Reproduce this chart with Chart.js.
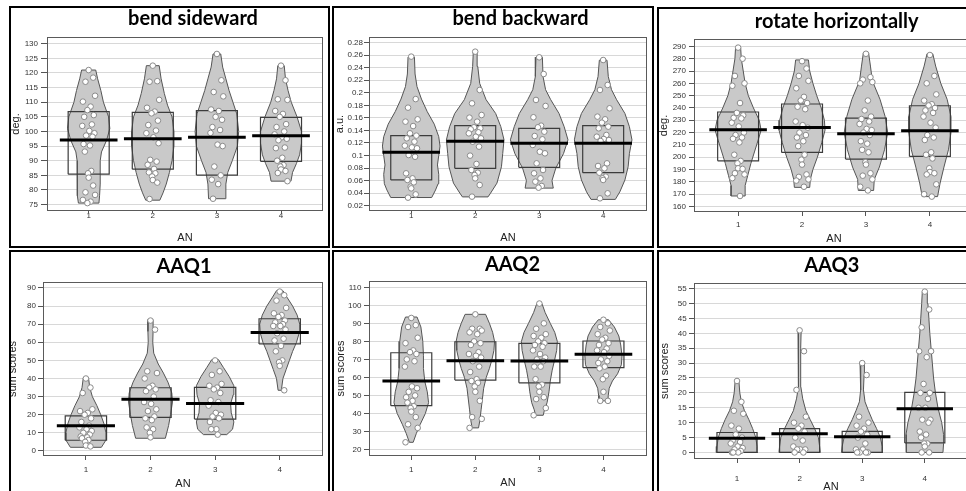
<!DOCTYPE html>
<html>
<head>
<meta charset="utf-8">
<script src="https://cdn.jsdelivr.net/npm/chart.js@4.4.1/dist/chart.umd.min.js"></script>
<style>
  html, body { margin: 0; padding: 0; background: #fff; overflow: hidden; width: 966px; height: 491px; }
  .panel { position: absolute; border: 2px solid #000; box-sizing: border-box; background: #fff; }
  .panel canvas { position: absolute; left: 0; top: 0; }
  .ttl { position: absolute; width: 300px; text-align: center; font-family: Lato, "Open Sans", sans-serif;
         font-weight: bold; font-size: 20px; line-height: 20px; color: #000; white-space: nowrap; }
</style>
</head>
<body>
<script>
// groups on the x axis
const CATS = [1, 2, 3, 4];

// ---- bend sideward ----
const SIDE_TICKS = [75, 80, 85, 90, 95, 100, 105, 110, 115, 120, 125, 130];
const SIDE_PTS = [
  [121, 118.4, 117, 112.2, 110.2, 108.5, 107.3, 105.6, 105, 102.4, 101.9, 100.2, 99.4, 98.6, 98.2, 95.7, 95.2, 93.1, 86.5, 85.7, 84.2, 81.5, 79.2, 78.3, 76.6, 76, 75.5],
  [122.5, 117.2, 117, 110.8, 108.1, 106.8, 106.2, 103.7, 102.2, 100.3, 99.4, 98, 96, 90.3, 89.7, 88.6, 87.2, 86, 85.7, 84.6, 83.4, 82.5, 76.9],
  [126.5, 117.5, 113.5, 112, 107.5, 107, 105, 104, 101.5, 100.5, 99.5, 95.5, 95, 88, 85, 83.5, 82, 77],
  [122.5, 117.5, 111, 110.8, 107, 106, 105, 102.5, 101.5, 100, 99, 98, 97.5, 97, 94.5, 94.3, 91, 90, 88.5, 88, 87, 86.5, 85.8, 83]
];
const SIDE_MEAN = [97.1, 97.5, 98, 98.5];
const SIDE_Q1 = [85.4, 87.1, 85.1, 89.8];
const SIDE_Q3 = [106.8, 106.5, 107.1, 104.8];
const SIDE_VIOLIN = [
  [[75.5, 0.16], [78, 0.17], [82, 0.18], [86, 0.18], [90, 0.18], [93, 0.2], [97, 0.28], [101, 0.33], [105, 0.31], [110, 0.23], [114, 0.19], [118, 0.14], [121, 0.11]],
  [[76.5, 0.11], [79, 0.16], [82, 0.21], [86, 0.26], [90, 0.30], [95, 0.33], [100, 0.33], [105, 0.30], [109, 0.23], [113, 0.18], [118, 0.13], [122.5, 0.10]],
  [[77, 0.13], [82, 0.14], [86, 0.17], [90, 0.24], [95, 0.32], [100, 0.34], [106, 0.31], [110, 0.25], [114, 0.19], [118, 0.14], [122, 0.09], [126.5, 0.06]],
  [[83, 0.155], [86, 0.18], [89, 0.24], [92, 0.29], [96, 0.32], [100, 0.32], [105, 0.25], [110, 0.16], [114, 0.11], [118, 0.07], [122.5, 0.05]]
];

// ---- bend backward ----
const BACK_TICKS = [0.02, 0.04, 0.06, 0.08, 0.1, 0.12, 0.14, 0.16, 0.18, 0.2, 0.22, 0.24, 0.26, 0.28];
const BACK_PTS = [
  [0.2577, 0.19, 0.1763, 0.1577, 0.154, 0.147, 0.1354, 0.1317, 0.1274, 0.1221, 0.1157, 0.113, 0.1115, 0.1008, 0.098, 0.0716, 0.0636, 0.061, 0.0572, 0.0503, 0.0476, 0.038, 0.0328],
  [0.2656, 0.2045, 0.1832, 0.1646, 0.1604, 0.154, 0.145, 0.1434, 0.1418, 0.137, 0.1354, 0.13, 0.1274, 0.122, 0.1141, 0.0998, 0.0865, 0.0769, 0.0726, 0.0689, 0.0636, 0.053, 0.0344],
  [0.2566, 0.23, 0.1886, 0.179, 0.161, 0.1476, 0.145, 0.138, 0.1311, 0.1258, 0.1168, 0.106, 0.1035, 0.0875, 0.0769, 0.0716, 0.0636, 0.0583, 0.0514, 0.0487],
  [0.2523, 0.2125, 0.2045, 0.1753, 0.162, 0.1577, 0.1524, 0.146, 0.1434, 0.1327, 0.13, 0.1263, 0.1247, 0.1231, 0.0875, 0.0833, 0.0796, 0.0726, 0.0663, 0.0636, 0.061, 0.0397, 0.0317]
];
const BACK_MEAN = [0.105, 0.1226, 0.1194, 0.1194];
const BACK_Q1 = [0.061, 0.0796, 0.0811, 0.0726];
const BACK_Q3 = [0.1317, 0.1476, 0.1434, 0.1476];
const BACK_VIOLIN = [
  [[0.033, 0.32], [0.045, 0.38], [0.055, 0.42], [0.07, 0.43], [0.085, 0.41], [0.10, 0.43], [0.115, 0.45], [0.13, 0.43], [0.15, 0.36], [0.17, 0.25], [0.19, 0.16], [0.21, 0.09], [0.23, 0.06], [0.257, 0.05]],
  [[0.034, 0.2], [0.04, 0.24], [0.056, 0.34], [0.082, 0.41], [0.103, 0.43], [0.125, 0.45], [0.146, 0.4], [0.167, 0.32], [0.189, 0.17], [0.215, 0.07], [0.242, 0.04], [0.265, 0.03]],
  [[0.048, 0.22], [0.06, 0.2], [0.08, 0.26], [0.103, 0.38], [0.125, 0.45], [0.146, 0.39], [0.167, 0.31], [0.189, 0.18], [0.205, 0.1], [0.226, 0.06], [0.257, 0.05]],
  [[0.03, 0.19], [0.042, 0.26], [0.061, 0.34], [0.082, 0.39], [0.103, 0.41], [0.125, 0.45], [0.146, 0.41], [0.167, 0.34], [0.189, 0.21], [0.205, 0.13], [0.226, 0.08], [0.252, 0.06]]
];

// ---- rotate horizontally ----
const ROT_TICKS = [160, 170, 180, 190, 200, 210, 220, 230, 240, 250, 260, 270, 280, 290];
const ROT_PTS = [
  [289, 280, 266, 260, 258, 244, 236, 234, 232, 231.5, 228, 225, 220, 218, 216, 215, 212, 202, 197, 195, 191, 190.5, 187, 186, 183, 168.5],
  [278, 272, 266, 262, 256, 249, 246, 244, 241, 239, 229, 226, 224, 220, 218, 216, 213, 209, 202, 198, 194, 186, 184, 182, 181, 176],
  [284, 265, 263, 261, 260, 246, 238, 233, 231, 229, 227, 223, 222, 220, 218, 213, 211, 206, 204, 196, 194, 187, 185, 182, 176, 173],
  [283, 266, 260, 251, 246, 243, 242, 240, 238, 236, 233, 228, 224, 218, 216, 214, 204, 202, 199, 191, 188, 187, 186, 178, 170, 168]
];
const ROT_MEAN = [222.3, 224.2, 219, 221.5];
const ROT_Q1 = [197.1, 203.9, 198.5, 200.6];
const ROT_Q3 = [236.7, 243.2, 231.8, 241.8];
const ROT_VIOLIN = [
  [[168.5, 0.11], [177, 0.11], [185, 0.15], [195, 0.2], [205, 0.26], [215, 0.32], [222, 0.36], [230, 0.33], [240, 0.24], [250, 0.16], [260, 0.11], [270, 0.08], [280, 0.05], [289, 0.04]],
  [[175.5, 0.12], [182, 0.13], [190, 0.17], [200, 0.24], [212, 0.31], [222, 0.36], [230, 0.35], [240, 0.3], [250, 0.23], [260, 0.17], [270, 0.12], [279, 0.1]],
  [[173, 0.12], [182, 0.13], [192, 0.21], [206, 0.29], [220, 0.34], [233, 0.3], [247, 0.22], [257, 0.14], [262, 0.1], [274, 0.07], [285, 0.04]],
  [[168, 0.12], [179, 0.16], [192, 0.22], [206, 0.29], [220, 0.33], [233, 0.33], [247, 0.27], [260, 0.17], [274, 0.09], [284, 0.045]]
];

// ---- AAQ1 ----
const AAQ1_TICKS = [0, 10, 20, 30, 40, 50, 60, 70, 80, 90];
const AAQ1_PTS = [
  [40, 35, 32, 23, 22, 21, 20, 18, 16, 14, 13, 12, 11, 10, 9, 8, 7.5, 7, 6, 5, 3, 2.5],
  [72, 67, 44, 43, 40, 36, 35, 34, 33, 30, 27, 26, 23, 22, 19, 18, 17, 13, 12, 10, 7.5],
  [50, 44, 42, 37, 36, 35, 34, 32, 28, 27, 25, 21, 20, 19, 18, 16, 12, 12, 9],
  [88, 86, 83, 79, 76, 75, 74, 72, 71, 70, 69, 69, 67, 65, 62, 61, 58, 55, 50, 49, 47, 33.5]
];
const AAQ1_MEAN = [13.9, 28.5, 26.2, 65.4];
const AAQ1_Q1 = [5.9, 18.5, 17.6, 59.1];
const AAQ1_Q3 = [19.4, 34.9, 35.1, 73];
const AAQ1_VIOLIN = [
  [[2, 0.24], [6, 0.31], [10, 0.31], [15, 0.28], [20, 0.23], [25, 0.17], [30, 0.1], [35, 0.06], [40.5, 0.04]],
  [[7, 0.23], [14, 0.28], [20, 0.31], [27, 0.34], [32, 0.33], [38, 0.27], [43, 0.2], [48, 0.12], [54, 0.05], [60, 0.035], [66, 0.04], [72.5, 0.04]],
  [[9, 0.18], [12, 0.27], [16, 0.29], [21, 0.25], [26, 0.24], [31, 0.28], [36, 0.29], [41, 0.22], [46, 0.13], [50.5, 0.05]],
  [[33.5, 0.025], [40, 0.05], [45, 0.1], [50, 0.15], [55, 0.2], [60, 0.26], [65, 0.3], [70, 0.31], [75, 0.27], [80, 0.2], [85, 0.11], [88.5, 0.05]]
];

// ---- AAQ2 ----
const AAQ2_TICKS = [20, 30, 40, 50, 60, 70, 80, 90, 100, 110];
const AAQ2_PTS = [
  [93, 89, 88, 82, 79, 75, 74, 73, 70, 69, 66, 55, 54, 52, 50, 49, 47, 46, 44, 43, 41, 38, 34, 32, 24],
  [95, 87, 87, 86, 85, 84, 80, 79, 78, 74, 73, 72, 71, 69, 66, 63, 59, 58, 57, 55, 52, 47, 38, 37, 32],
  [101, 90, 87, 84, 83, 82, 80, 79, 78, 77, 75, 73, 71, 70, 69, 66, 66, 59, 56, 55, 52, 49, 48, 43, 39],
  [92, 90, 88, 86, 84, 82, 81, 79, 78, 76, 75, 74, 72, 70, 69, 68, 66, 65, 61, 59, 52, 47, 47]
];
const AAQ2_MEAN = [58, 69.3, 69.1, 72.8];
const AAQ2_Q1 = [44.3, 58.5, 57, 65.4];
const AAQ2_Q3 = [73.7, 79.8, 78.9, 80.2];
const AAQ2_VIOLIN = [
  [[24, 0.03], [29, 0.08], [34, 0.14], [40, 0.22], [46, 0.27], [52, 0.25], [58, 0.21], [65, 0.19], [72, 0.19], [80, 0.18], [88, 0.15], [93.5, 0.09]],
  [[32, 0.05], [36, 0.07], [42, 0.09], [48, 0.11], [54, 0.13], [60, 0.17], [65, 0.22], [70, 0.26], [75, 0.29], [80, 0.3], [85, 0.27], [90, 0.22], [95, 0.16]],
  [[39, 0.06], [42, 0.08], [46, 0.12], [52, 0.15], [58, 0.17], [64, 0.2], [70, 0.24], [75, 0.27], [80, 0.28], [85, 0.24], [90, 0.17], [96, 0.09], [101, 0.04]],
  [[47, 0.07], [50, 0.075], [54, 0.09], [58, 0.14], [62, 0.22], [67, 0.28], [72, 0.29], [78, 0.27], [83, 0.24], [88, 0.17], [92, 0.08]]
];

// ---- AAQ3 ----
const AAQ3_TICKS = [0, 5, 10, 15, 20, 25, 30, 35, 40, 45, 50, 55];
const AAQ3_PTS = [
  [24, 17, 14, 13, 9, 8, 6, 5, 4, 3.5, 3, 2, 1.5, 1, 0.5, 0, 0, 0],
  [41, 34, 21, 12, 10, 9, 8, 7, 5, 4, 2, 1, 1, 1, 0, 0],
  [30, 26, 12, 10, 9, 8, 7, 6, 5, 3, 1, 1, 0, 0, 0, 0],
  [54, 48, 42, 34, 34, 32, 23, 20, 20, 18, 15, 15, 11, 11, 10, 7, 6, 5, 3, 3, 2, 0, 0]
];
const AAQ3_MEAN = [4.8, 6.3, 5.3, 14.7];
const AAQ3_Q1 = [0, 0, 0, 3.2];
const AAQ3_Q3 = [6.7, 8, 7.1, 20.2];
const AAQ3_VIOLIN = [
  [[0, 0.33], [2, 0.32], [5, 0.3], [8, 0.25], [11, 0.19], [14, 0.12], [17, 0.07], [20, 0.045], [24, 0.03]],
  [[0, 0.33], [2, 0.32], [5, 0.3], [8, 0.24], [11, 0.17], [14, 0.1], [18, 0.05], [22, 0.02], [28, 0.015], [35, 0.02], [41, 0.025]],
  [[0, 0.33], [2, 0.32], [5, 0.29], [8, 0.23], [11, 0.16], [14, 0.1], [17, 0.045], [21, 0.02], [26, 0.03], [30, 0.035]],
  [[0, 0.29], [3, 0.3], [6, 0.3], [10, 0.27], [15, 0.21], [20, 0.17], [25, 0.14], [30, 0.12], [35, 0.1], [40, 0.08], [45, 0.065], [50, 0.05], [54, 0.04]]
];

// look of the marks
const BOX_HALF = 0.32;
const MEAN_HALF = 0.45;
const JITTER = [0, 0.07, -0.05, 0.1, -0.09, 0.03, -0.02, 0.08, -0.07, 0.05, -0.1, 0.01, 0.09, -0.04, 0.06, -0.08, 0.02, -0.06, 0.04, -0.01];
const FONT = '"Liberation Sans", Arial, sans-serif';

// layout of each panel (page pixels): box, plot area, title position etc.
const PANELS = [
  { title: 'bend sideward', box: [9, 6, 321, 242], plot: [47, 37, 325, 211], x: [0.35, 4.655], y: [72.8, 132.3],
    ticks: SIDE_TICKS, yTitle: 'deg.', pts: SIDE_PTS, mean: SIDE_MEAN, q1: SIDE_Q1, q3: SIDE_Q3, violin: SIDE_VIOLIN,
    titleAt: [193, 25], anY: 238, yTitleX: 16, xTick: [2, -2], yTick: [6, 3] },
  { title: 'bend backward', box: [332, 6, 322, 242], plot: [369, 37, 648, 211], x: [0.34, 4.685], y: [0.0115, 0.289],
    ticks: BACK_TICKS, yTitle: 'a.u.', pts: BACK_PTS, mean: BACK_MEAN, q1: BACK_Q1, q3: BACK_Q3, violin: BACK_VIOLIN,
    titleAt: [520.5, 25], anY: 238, yTitleX: 340, xTick: [2, -2], yTick: [5, 1] },
  { title: 'rotate horizontally', box: [657, 7, 330, 241], plot: [694, 39, 974, 212], x: [0.31, 4.69], y: [155.5, 296],
    ticks: ROT_TICKS, yTitle: 'deg.', pts: ROT_PTS, mean: ROT_MEAN, q1: ROT_Q1, q3: ROT_Q3, violin: ROT_VIOLIN,
    titleAt: [836.7, 28], anY: 239, yTitleX: 664, xTick: [4, 3.6], yTick: [5, 3] },
  { title: 'AAQ1', box: [9, 250, 321, 250], plot: [43, 282, 323, 456], x: [0.336, 4.67], y: [-2.8, 93.3],
    ticks: AAQ1_TICKS, yTitle: 'sum scores', pts: AAQ1_PTS, mean: AAQ1_MEAN, q1: AAQ1_Q1, q3: AAQ1_Q3, violin: AAQ1_VIOLIN,
    titleAt: [184, 273], anY: 484, yTitleX: 13, xTick: [4, 4.6], yTick: [5, 2] },
  { title: 'AAQ2', box: [332, 250, 322, 250], plot: [369, 281, 648, 456], x: [0.34, 4.68], y: [16.4, 113.5],
    ticks: AAQ2_TICKS, yTitle: 'sum scores', pts: AAQ2_PTS, mean: AAQ2_MEAN, q1: AAQ2_Q1, q3: AAQ2_Q3, violin: AAQ2_VIOLIN,
    titleAt: [512.5, 271], anY: 483, yTitleX: 341, xTick: [4, 4.6], yTick: [5, 2.6] },
  { title: 'AAQ3', box: [657, 250, 330, 250], plot: [694, 283, 968, 459], x: [0.313, 4.69], y: [-2.2, 56.9],
    ticks: AAQ3_TICKS, yTitle: 'sum scores', pts: AAQ3_PTS, mean: AAQ3_MEAN, q1: AAQ3_Q1, q3: AAQ3_Q3, violin: AAQ3_VIOLIN,
    titleAt: [831.7, 272], anY: 487, yTitleX: 665, xTick: [4, 10.6], yTick: [5, 2.3] }
];

function violinPath(c, prof) {
  const right = prof.map(([v, w]) => ({ x: c + w, y: v }));
  const left = prof.slice().reverse().map(([v, w]) => ({ x: c - w, y: v }));
  return [...right, ...left, right[0]];
}

function boxPath(c, lo, hi) {
  return [
    { x: c - BOX_HALF, y: lo }, { x: c + BOX_HALF, y: lo },
    { x: c + BOX_HALF, y: hi }, { x: c - BOX_HALF, y: hi }, { x: c - BOX_HALF, y: lo }
  ];
}

// frame around the plot area
const framePlugin = {
  id: 'frame',
  beforeDatasetsDraw(chart) {
    const { ctx, chartArea: a } = chart;
    ctx.save();
    ctx.strokeStyle = '#5a5a5a';
    ctx.lineWidth = 1;
    ctx.strokeRect(a.left + 0.5, a.top + 0.5, a.right - a.left - 1, a.bottom - a.top - 1);
    ctx.restore();
  }
};

function makePanel(p) {
  const [bl, bt, bw, bh] = p.box;
  const div = document.createElement('div');
  div.className = 'panel';
  Object.assign(div.style, { left: bl + 'px', top: bt + 'px', width: bw + 'px', height: bh + 'px' });
  const canvas = document.createElement('canvas');
  const cw = bw - 4, ch = bh - 4;
  canvas.width = cw; canvas.height = ch;
  canvas.style.width = cw + 'px'; canvas.style.height = ch + 'px';
  div.appendChild(canvas);
  document.body.appendChild(div);

  const t = document.createElement('div');
  t.className = 'ttl';
  t.textContent = p.title;
  t.style.left = (p.titleAt[0] - 150) + 'px';
  t.style.top = (p.titleAt[1] - 17.7) + 'px';
  document.body.appendChild(t);

  const cl = bl + 2, ct = bt + 2;
  const [pl, pt, pr, pb] = p.plot;

  const datasets = [];
  CATS.forEach((c, gi) => {
    datasets.push({
      type: 'line', data: [{ x: c - MEAN_HALF, y: p.mean[gi] }, { x: c + MEAN_HALF, y: p.mean[gi] }],
      borderColor: '#000', borderWidth: 3, pointRadius: 0, order: 0
    });
  });
  datasets.push({
    type: 'scatter',
    data: p.pts.flatMap((g, gi) => g.map((v, i) => ({ x: CATS[gi] + JITTER[i % JITTER.length], y: v }))),
    pointRadius: 2.8, pointBackgroundColor: '#fff', pointBorderColor: '#8a8a8a', pointBorderWidth: 1, order: 1
  });
  CATS.forEach((c, gi) => {
    datasets.push({
      type: 'line', data: boxPath(c, p.q1[gi], p.q3[gi]),
      borderColor: '#3c3c3c', borderWidth: 1.2, pointRadius: 0, fill: false, order: 2
    });
    datasets.push({
      type: 'line', data: violinPath(c, p.violin[gi]),
      borderColor: '#555', borderWidth: 1, backgroundColor: '#c9c9c9', fill: 'shape', pointRadius: 0, order: 3
    });
  });

  new Chart(canvas, {
    type: 'scatter',
    data: { datasets },
    options: {
      responsive: false,
      animation: false,
      events: [],
      devicePixelRatio: 1,
      layout: { padding: { left: 0, top: pt - ct, right: (cl + cw) - pr, bottom: 0 } },
      plugins: { legend: { display: false }, tooltip: { enabled: false } },
      scales: {
        x: {
          type: 'linear', min: p.x[0], max: p.x[1],
          afterFit: s => { s.height = (ct + ch) - pb; },
          afterBuildTicks: s => { s.ticks = CATS.map(v => ({ value: v })); },
          ticks: { font: { size: 8, family: FONT }, color: '#333', padding: p.xTick[1], maxRotation: 0, autoSkip: false,
                   callback: v => String(v) },
          grid: { drawOnChartArea: false, drawTicks: true, tickLength: p.xTick[0], tickColor: '#555' },
          border: { display: false },
          title: { display: true, text: 'AN', font: { size: 11, family: FONT }, color: '#222',
                   padding: { top: 0, bottom: ((ct + ch) - p.anY) - 6.6 } }
        },
        y: {
          type: 'linear', min: p.y[0], max: p.y[1],
          afterFit: s => { s.width = pl - cl; },
          afterBuildTicks: s => { s.ticks = p.ticks.map(v => ({ value: v })); },
          ticks: { font: { size: 8, family: FONT }, color: '#333', padding: p.yTick[1], autoSkip: false,
                   callback: v => String(Math.round(v * 1000) / 1000) },
          grid: { color: '#d8d8d8', lineWidth: 1, drawTicks: true, tickLength: p.yTick[0], tickColor: '#555' },
          border: { display: false },
          title: { display: true, text: p.yTitle, font: { size: 11, family: FONT }, color: '#222',
                   padding: { top: (p.yTitleX - cl) - 6.6, bottom: 0 } }
        }
      }
    },
    plugins: [framePlugin]
  });
}

PANELS.forEach(makePanel);
</script>
</body>
</html>
